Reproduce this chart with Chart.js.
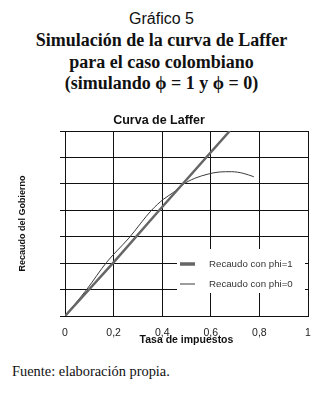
<!DOCTYPE html>
<html>
<head>
<meta charset="utf-8">
<script src="https://cdn.jsdelivr.net/npm/chart.js@4/dist/chart.umd.min.js"></script>
<style>
body{margin:0;background:#fff;overflow:hidden;width:335px;height:394px;position:relative}
.hd{position:absolute;left:0;width:323px;text-align:center;color:#111}
#g5{top:10px;font:16px/18px "Liberation Sans",Arial,sans-serif}
#tt{top:30px;font:bold 18px/21.5px "Liberation Serif","Times New Roman",serif}
#src{position:absolute;left:12px;top:363px;font:14.4px/16px "Liberation Serif","Times New Roman",serif;color:#111}
#wrap{position:absolute;left:10px;top:100px}
</style>
</head>
<body>
<div class="hd" id="g5">Gráfico 5</div>
<div class="hd" id="tt">Simulación de la curva de Laffer<br>para el caso colombiano<br>(simulando ϕ = 1 y ϕ = 0)</div>
<div id="wrap"><canvas id="graph" width="334" height="250"></canvas></div>
<div id="src">Fuente: elaboración propia.</div>
<script>
// tick labels on the x axis (tax rate)
const xTickLabels=['0','0,2','0,4','0,6','0,8','1']
const labels=['Recaudo con phi=1','Recaudo con phi=0']
// phi = 1 : straight line
const rate1=[0,0.2,0.388,0.678]
const revenue1=[0,2.03,4.0,7]
// phi = 0 : curve
const rate0=[0,0.089,0.171,0.263,0.356,0.404,0.445,0.486,0.534,0.589,0.637,0.685,0.733,0.777]
const revenue0=[0,1.0,2.03,2.95,4.0,4.41,4.67,4.98,5.21,5.37,5.45,5.46,5.40,5.27]

const pts=(xs,ys)=>xs.map((x,i)=>({x:x,y:ys[i]}))

const legendBox={
    id:'legendBox',
    afterDatasetsDraw(chart){
        const {ctx,chartArea:a}=chart
        const x0=a.right-131,y0=a.bottom-67
        ctx.save()
        ctx.fillStyle='#fff'
        ctx.fillRect(x0,y0,128,44)
        chart.data.datasets.forEach((ds,i)=>{
            const y=y0+15+i*20
            ctx.strokeStyle=ds.borderColor
            ctx.lineWidth=i==0?3.5:1
            ctx.beginPath()
            ctx.moveTo(x0+3,y)
            ctx.lineTo(x0+18,y)
            ctx.stroke()
            ctx.fillStyle='#333'
            ctx.font='9.7px "Liberation Sans"'
            ctx.textBaseline='middle'
            ctx.fillText(ds.label,x0+32,y)
        })
        ctx.restore()
    }
}

new Chart('graph',{
    type:'line',
    data:{
        datasets:[{
            label:labels[0],
            data:pts(rate1,revenue1),
            borderColor:'#666',
            borderWidth:2.5,
            pointRadius:0,
            tension:0
        },{
            label:labels[1],
            data:pts(rate0,revenue0),
            borderColor:'#3a3a3a',
            borderWidth:1,
            pointRadius:0,
            cubicInterpolationMode:'monotone'
        }]
    },
    options:{
        responsive:false,
        animation:false,
        devicePixelRatio:1,
        layout:{padding:{left:0,right:36,top:0,bottom:0}},
        plugins:{
            legend:{display:false},
            tooltip:{enabled:false},
            title:{
                display:true,
                text:'Curva de Laffer',
                color:'#111',
                font:{family:'Liberation Sans',size:12.5,weight:'bold'},
                padding:{top:13.5,bottom:2.5}
            }
        },
        scales:{
            x:{
                type:'linear',
                min:0,max:1,
                afterFit:s=>{s.height=34},
                grid:{color:'#111',drawTicks:false},
                border:{color:'#111'},
                ticks:{
                    stepSize:0.2,
                    padding:11,
                    color:'#222',
                    font:{family:'Liberation Sans',size:10.5},
                    callback:(v,i)=>xTickLabels[i]
                },
                title:{
                    display:true,
                    text:'Tasa de impuestos',
                    color:'#111',
                    font:{family:'Liberation Sans',size:10.5,weight:'bold'},
                    padding:{top:0,bottom:4}
                }
            },
            y:{
                min:0,max:7,
                afterFit:s=>{s.width=55},
                grid:{color:'#111',tickLength:5},
                border:{color:'#111'},
                ticks:{stepSize:1,display:false},
                title:{
                    display:true,
                    text:'Recaudo del Gobierno',
                    color:'#111',
                    font:{family:'Liberation Sans',size:9,weight:'bold'},
                    padding:{top:7,bottom:0}
                }
            }
        }
    },
    plugins:[legendBox]
})
</script>
</body>
</html>
